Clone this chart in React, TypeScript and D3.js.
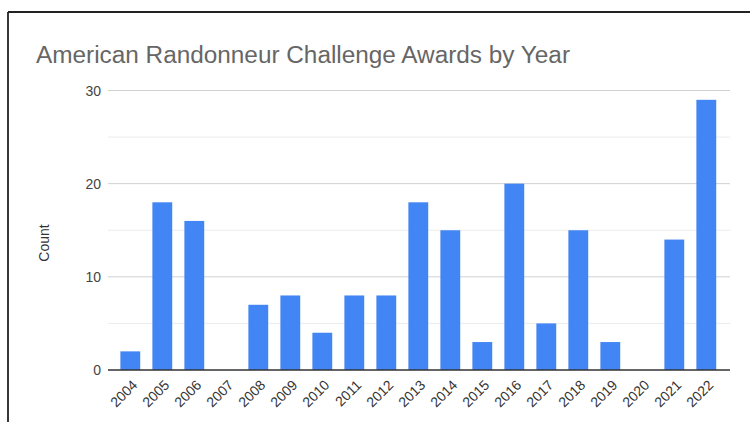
import React from "react";
import * as d3 from "d3";

const years = ["2004","2005","2006","2007","2008","2009","2010","2011","2012","2013","2014","2015","2016","2017","2018","2019","2020","2021","2022"];
const counts = [2,18,16,0,7,8,4,8,8,18,15,3,20,5,15,3,0,14,29];
const majorTicks = [0,10,20,30];
const minorTicks = [5,15,25];

const W = 750, H = 422;

export default function App() {
  const x = d3.scaleBand<string>().domain(years).range([114.3, 722.3]).paddingInner(0.38).paddingOuter(0.19);
  const y = d3.scaleLinear().domain([0, 30]).range([370, 90.5]);
  const gx0 = 108, gx1 = 730;
  const font = "'Liberation Sans', Arial, sans-serif";
  return (
    <div style={{ position: "fixed", left: 0, top: 0, width: W, height: H, background: "#fff" }}>
      <svg width={W} height={H} style={{ display: "block" }}>
        <rect width={W} height={H} fill="#fff" />
        {/* frame */}
        <line x1={8} y1={12} x2={W} y2={12} stroke="#222" strokeWidth={1.8} />
        <line x1={8} y1={12} x2={8} y2={H} stroke="#222" strokeWidth={1.8} />
        <text x={36} y={63} fontFamily={font} fontSize={23} fill="#666" textLength={534} lengthAdjust="spacingAndGlyphs">
          American Randonneur Challenge Awards by Year
        </text>
        {minorTicks.map(t => (
          <line key={"m" + t} x1={gx0} x2={gx1} y1={y(t)} y2={y(t)} stroke="#ececec" strokeWidth={1} />
        ))}
        {majorTicks.filter(t => t > 0).map(t => (
          <line key={"g" + t} x1={gx0} x2={gx1} y1={y(t)} y2={y(t)} stroke="#d0d0d0" strokeWidth={1} />
        ))}
        {majorTicks.map(t => (
          <text key={"t" + t} x={101} y={y(t)} dy="0.36em" textAnchor="end" fontFamily={font} fontSize={14} fill="#444">
            {t}
          </text>
        ))}
        <text transform={`translate(49,243) rotate(-90)`} textAnchor="middle" fontFamily={font} fontSize={14} fill="#333">
          Count
        </text>
        {years.map((yr, i) => (
          <rect key={yr} x={x(yr)} y={y(counts[i])} width={x.bandwidth()} height={y(0) - y(counts[i])} fill="#4285f4" />
        ))}
        <line x1={gx0} x2={gx1} y1={y(0)} y2={y(0)} stroke="#333" strokeWidth={1.3} />
        {years.map(yr => {
          const cx = (x(yr) as number) + x.bandwidth() / 2 + 8;
          return (
            <text key={"l" + yr} transform={`translate(${cx},${386}) rotate(-45)`} textAnchor="end" fontFamily={font} fontSize={14} fill="#333">
              {yr}
            </text>
          );
        })}
      </svg>
    </div>
  );
}
